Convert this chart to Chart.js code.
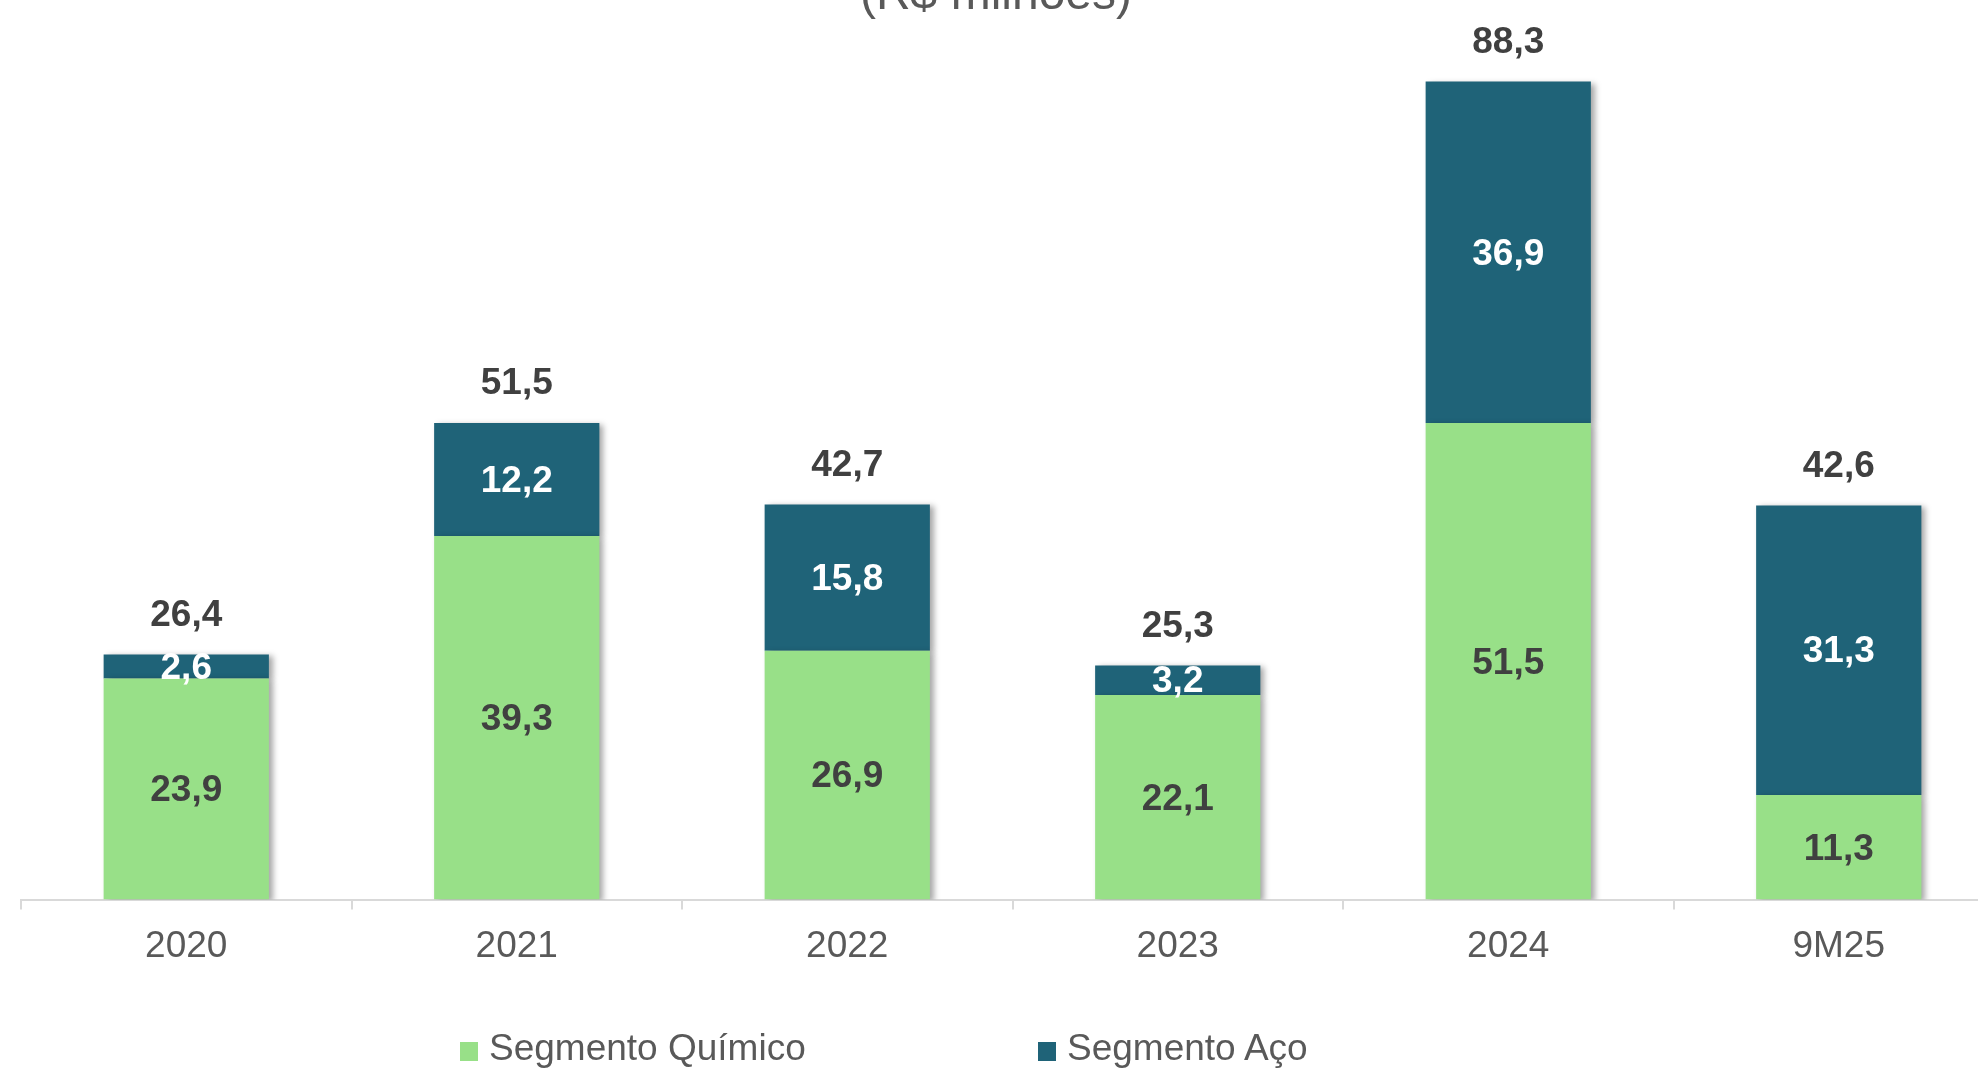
<!DOCTYPE html>
<html>
<head>
<meta charset="utf-8">
<script src="https://cdn.jsdelivr.net/npm/chart.js@4"></script>
<style>
  html, body { margin: 0; padding: 0; background: #fff; }
  #wrap { position: relative; width: 1978px; height: 1068px; overflow: hidden; }
  #chart { position: absolute; left: 0; top: 0; }
  .leg { position: absolute; top: 1027px; font: 37px "Liberation Sans", Arial, sans-serif; color: #595959; white-space: nowrap; }
  .leg i { display: inline-block; width: 18px; height: 19px; margin-right: 11px; vertical-align: -1px; }
</style>
</head>
<body>
<div id="wrap">
  <canvas id="chart" width="2010" height="1068"></canvas>
  <div class="leg" style="left:460px"><i style="background:#98E088"></i>Segmento Químico</div>
  <div class="leg" style="left:1038px"><i style="background:#1F6378"></i>Segmento Aço</div>
</div>
<script>
const categories = ['2020', '2021', '2022', '2023', '2024', '9M25'];
const quimico = [23.9, 39.3, 26.9, 22.1, 51.5, 11.3];
const aco = [2.6, 12.2, 15.8, 3.2, 36.9, 31.3];
const totals = [26.4, 51.5, 42.7, 25.3, 88.3, 42.6];

const green = '#98E088';
const teal = '#1F6378';
const font = '"Liberation Sans", Arial, sans-serif';

function fmt(v) {
  return v.toFixed(1).replace('.', ',');
}

// soft shadow on the right side of the bars
const shadowPlugin = {
  id: 'barShadow',
  beforeDatasetsDraw(chart) {
    const ctx = chart.ctx;
    ctx.save();
    ctx.shadowColor = 'rgba(0,0,0,0.35)';
    ctx.shadowBlur = 6;
    ctx.shadowOffsetX = 4;
    ctx.shadowOffsetY = 2;
  },
  afterDatasetsDraw(chart) {
    chart.ctx.restore();
  }
};

const labelPlugin = {
  id: 'valueLabels',
  afterDraw(chart) {
    const ctx = chart.ctx;
    ctx.save();
    ctx.textAlign = 'center';
    ctx.textBaseline = 'middle';
    ctx.font = 'bold 37px ' + font;

    chart.data.datasets.forEach((ds, i) => {
      const meta = chart.getDatasetMeta(i);
      meta.data.forEach((bar, j) => {
        ctx.fillStyle = i === 0 ? '#404040' : '#ffffff';
        ctx.fillText(fmt(ds.data[j]), bar.x, (bar.y + bar.base) / 2 + 2);
      });
    });

    const topMeta = chart.getDatasetMeta(1);
    ctx.fillStyle = '#404040';
    topMeta.data.forEach((bar, j) => {
      ctx.fillText(fmt(totals[j]), bar.x, bar.y - 39);
    });

    // title, mostly cut off by the top of the picture
    ctx.font = '48px ' + font;
    ctx.fillStyle = '#595959';
    ctx.textBaseline = 'alphabetic';
    ctx.fillText('(R$ milhões)', 996, 9);
    ctx.restore();
  }
};

new Chart(document.getElementById('chart'), {
  type: 'bar',
  data: {
    labels: categories,
    datasets: [
      { label: 'Segmento Químico', data: quimico, backgroundColor: green },
      { label: 'Segmento Aço', data: aco, backgroundColor: teal }
    ]
  },
  options: {
    responsive: false,
    animation: false,
    layout: { padding: { left: 21, right: 6, top: 2, bottom: 84 } },
    datasets: { bar: { barPercentage: 0.5, categoryPercentage: 1 } },
    plugins: {
      legend: { display: false },
      tooltip: { enabled: false }
    },
    scales: {
      x: {
        stacked: true,
        grid: { display: true, drawOnChartArea: false, drawTicks: true, tickLength: 10, color: '#d9d9d9', lineWidth: 2 },
        border: { display: true, color: '#d9d9d9', width: 2 },
        ticks: { color: '#595959', padding: 15, font: { size: 37, family: font } }
      },
      y: {
        stacked: true,
        display: false,
        min: 0,
        max: 97
      }
    }
  },
  plugins: [shadowPlugin, labelPlugin]
});
</script>
</body>
</html>
